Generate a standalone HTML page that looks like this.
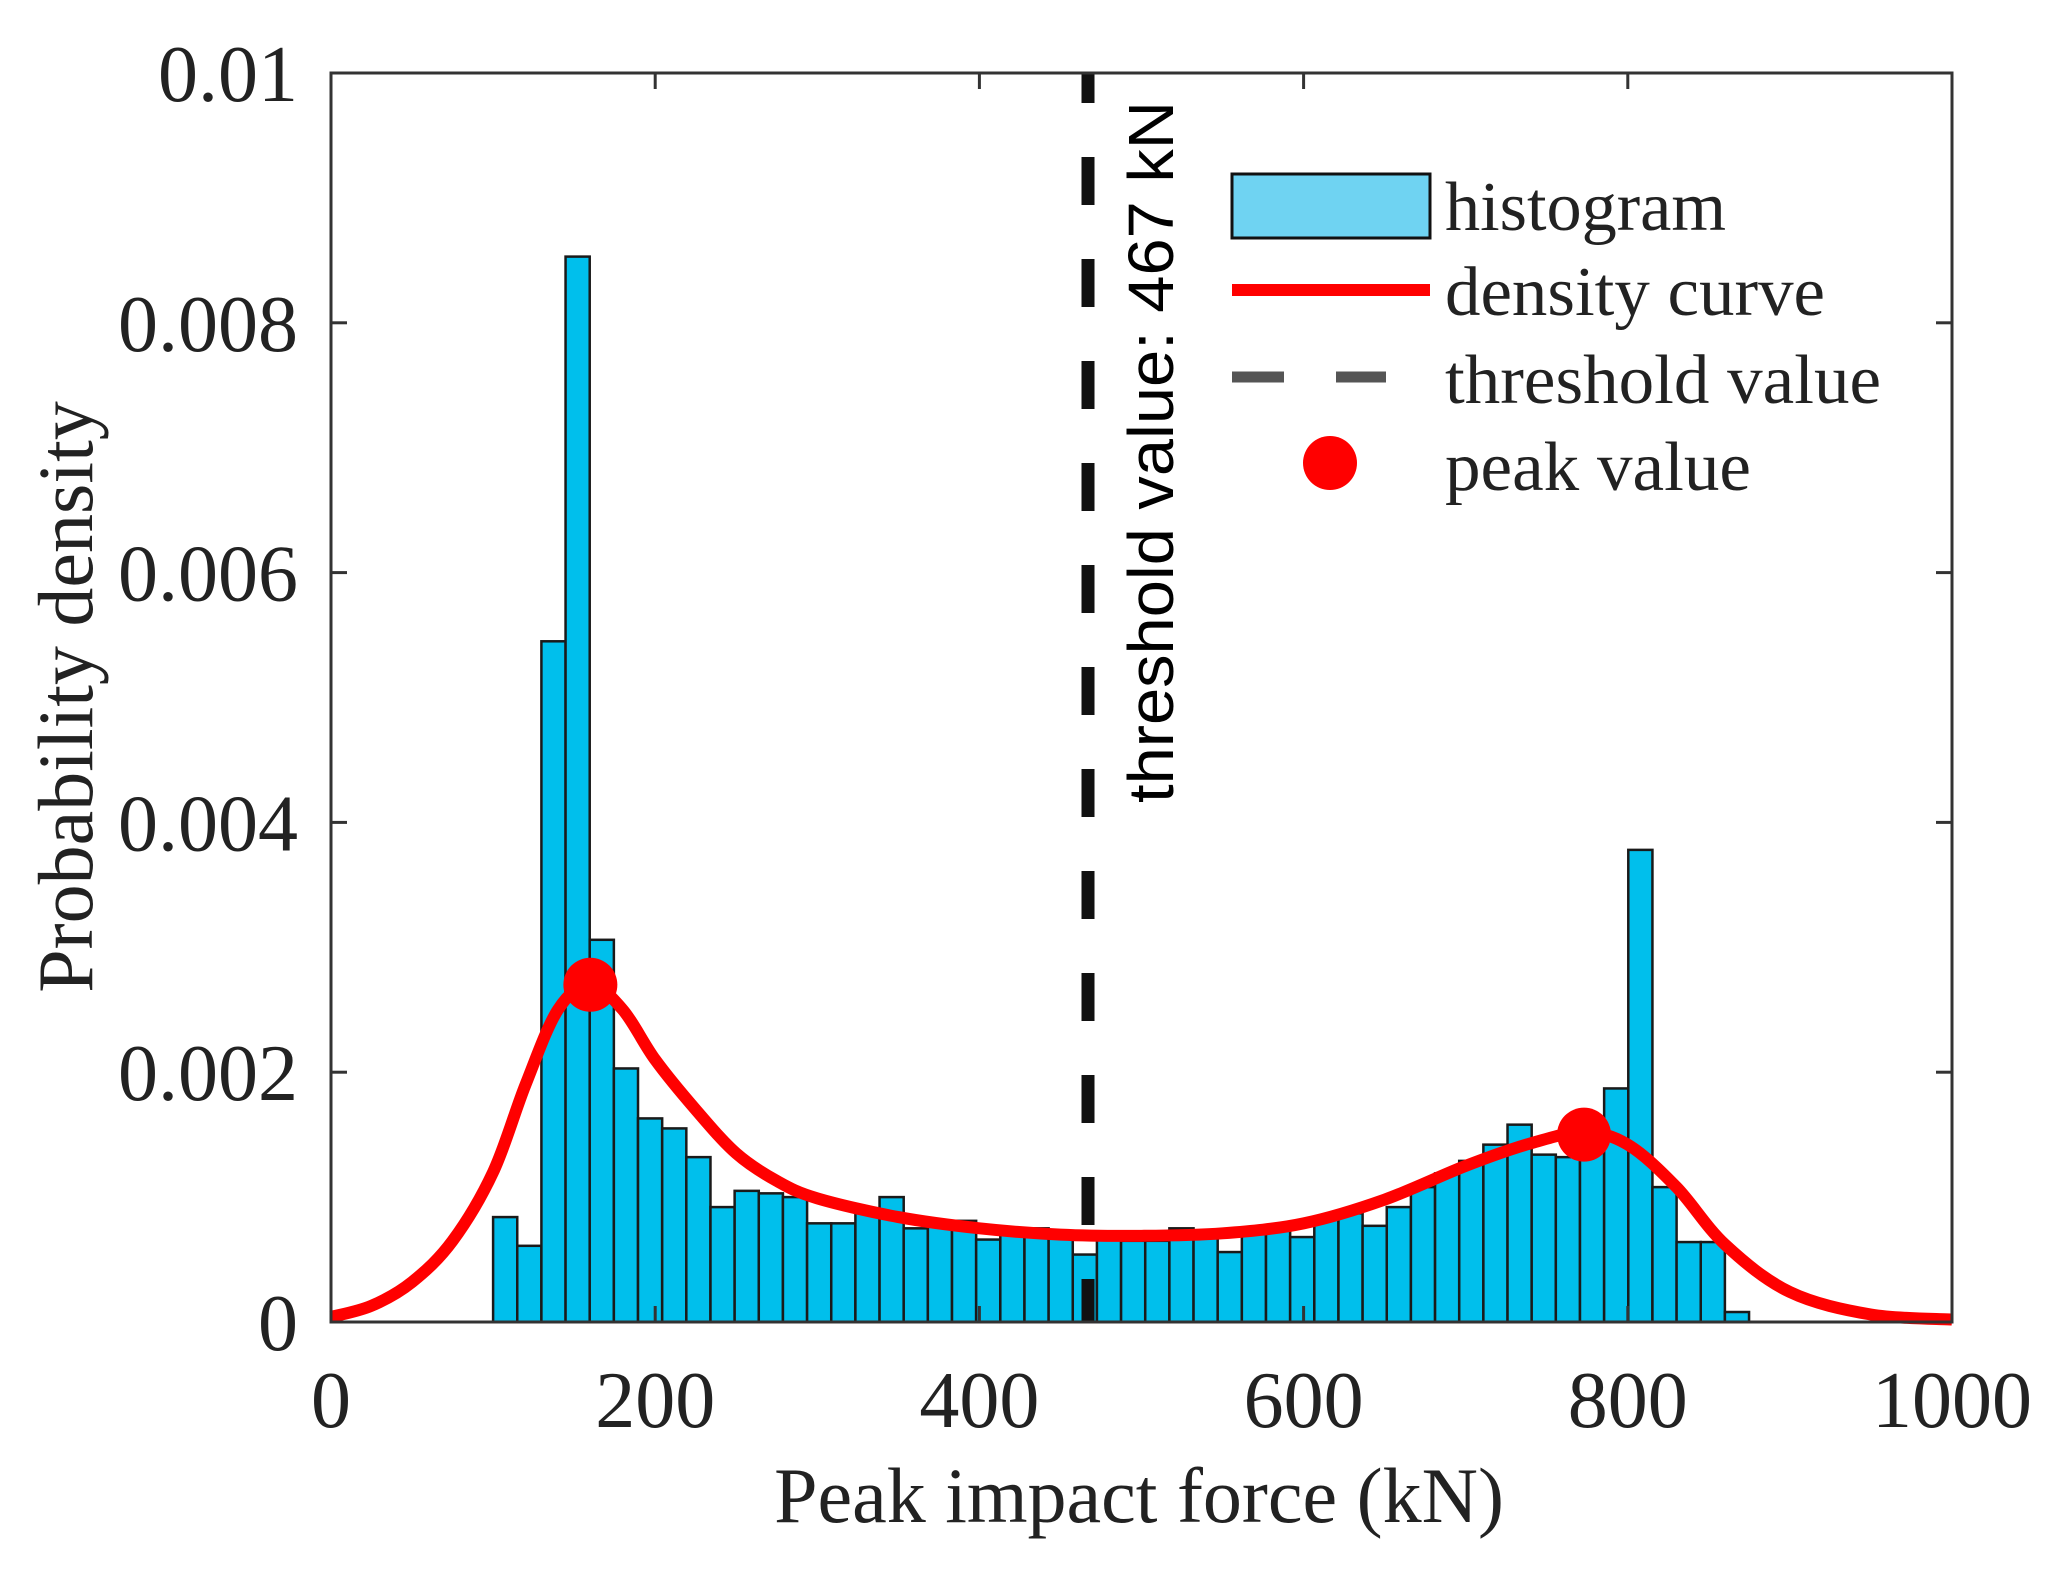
<!DOCTYPE html>
<html><head><meta charset="utf-8"><style>
html,body{margin:0;padding:0;background:#fff;}
svg{display:block;}
text{font-family:"Liberation Serif",serif;fill:#222;}
</style></head><body>
<svg id="chart" width="2059" height="1574" viewBox="0 0 2059 1574" xmlns="http://www.w3.org/2000/svg">
<g id="bars"></g>
<path id="curve" fill="none" stroke="#ff0000" stroke-width="12" stroke-linejoin="round"/>
<g id="peaks"></g>
<line id="thresh" stroke="#111" stroke-width="13" stroke-dasharray="48 54"/>
<text id="threshText" style="font-family:'Liberation Sans',sans-serif;fill:#000" font-size="64" textLength="702" lengthAdjust="spacingAndGlyphs">threshold value: 467 kN</text>
<g id="frame"></g>
<g id="xticks"></g>
<g id="yticks"></g>
<text x="1139" y="1522" font-size="78" text-anchor="middle">Peak impact force (kN)</text>
<text x="0" y="0" font-size="78" text-anchor="middle" transform="translate(92,697) rotate(-90)">Probability density</text>
<g>
  <rect x="1232" y="174" width="198" height="64" fill="#6fd3f2" stroke="#111" stroke-width="3"/>
  <text x="1445" y="230" font-size="70" textLength="281" lengthAdjust="spacingAndGlyphs">histogram</text>
  <line x1="1232" y1="290" x2="1430" y2="290" stroke="#ff0000" stroke-width="12"/>
  <text x="1445" y="315" font-size="70" textLength="380" lengthAdjust="spacingAndGlyphs">density curve</text>
  <line x1="1232" y1="377" x2="1284" y2="377" stroke="#555" stroke-width="11"/>
  <line x1="1336" y1="377" x2="1386" y2="377" stroke="#555" stroke-width="11"/>
  <text x="1445" y="403" font-size="70" textLength="436" lengthAdjust="spacingAndGlyphs">threshold value</text>
  <circle cx="1330" cy="463" r="27" fill="#ff0000"/>
  <text x="1445" y="490" font-size="70" textLength="306" lengthAdjust="spacingAndGlyphs">peak value</text>
</g>
</svg>
<script>
const binStart = 100;
const binWidth = 14.9;
const binValues = [0.00084,0.00061,0.00545,0.00853,0.00306,0.00203,0.00163,0.00155,0.00132,0.00092,0.00105,0.00103,0.00100,0.00079,0.00079,0.00087,0.00100,0.00075,0.00080,0.00081,0.00066,0.00073,0.00075,0.00069,0.00054,0.00068,0.00065,0.00065,0.00075,0.00069,0.00056,0.00071,0.00073,0.00068,0.00084,0.00087,0.00077,0.00092,0.00108,0.00119,0.00129,0.00142,0.00158,0.00134,0.00132,0.00145,0.00187,0.00378,0.00108,0.00064,0.00064,0.00008];
const curveX = [0,25,50,75,100,120,140,160,180,200,225,250,275,300,350,400,450,500,550,600,650,700,740,773,800,830,860,900,950,1000];
const curveY = [0.00004,0.00013,0.00032,0.00065,0.0012,0.0019,0.0025,0.0027,0.0025,0.0021,0.0017,0.00135,0.00113,0.00099,0.00084,0.00075,0.00070,0.00069,0.00071,0.00079,0.00098,0.00125,0.00143,0.00152,0.00142,0.00108,0.00062,0.00024,0.00006,0.00002];
const peakX = [160,773];
const peakY = [0.0027,0.0015];
const threshold = 467;
const xTicks = [0,200,400,600,800,1000];
const xTickLabels = ["0","200","400","600","800","1000"];
const yTicks = [0,0.002,0.004,0.006,0.008,0.01];
const yTickLabels = ["0","0.002","0.004","0.006","0.008","0.01"];

const L=331,R=1952,T=73,B=1322;
const NS='http://www.w3.org/2000/svg';
function sx(v){return L+(v-0)/1000*(R-L);}
function sy(v){return B-v/0.01*(B-T);}
function mk(tag,attrs,parent){const e=document.createElementNS(NS,tag);for(const k in attrs)e.setAttribute(k,attrs[k]);parent.appendChild(e);return e;}

const bars=document.getElementById('bars');
binValues.forEach((v,i)=>{
  const x0=sx(binStart+i*binWidth), x1=sx(binStart+(i+1)*binWidth);
  const r=mk('rect',{x:x0,y:sy(v),width:x1-x0,height:B-sy(v),fill:'#00bfec',stroke:'#1a1a1a','stroke-width':2.5},bars);
  
  
});
const pts=curveX.map((x,i)=>[sx(x),sy(curveY[i])]);
let d='M'+pts[0][0]+','+pts[0][1];
for(let i=0;i<pts.length-1;i++){
  const p0=pts[Math.max(0,i-1)],p1=pts[i],p2=pts[i+1],p3=pts[Math.min(pts.length-1,i+2)];
  const c1=[p1[0]+(p2[0]-p0[0])/6,p1[1]+(p2[1]-p0[1])/6];
  const c2=[p2[0]-(p3[0]-p1[0])/6,p2[1]-(p3[1]-p1[1])/6];
  d+=' C'+c1[0]+','+c1[1]+' '+c2[0]+','+c2[1]+' '+p2[0]+','+p2[1];
}
document.getElementById('curve').setAttribute('d',d);
const peaks=document.getElementById('peaks');
peakX.forEach((x,i)=>{
  const c=mk('circle',{cx:sx(x),cy:sy(peakY[i]),r:27,fill:'#ff0000'},peaks);
  
  
});
const th=document.getElementById('thresh');
th.setAttribute('x1',sx(threshold));th.setAttribute('x2',sx(threshold));
th.setAttribute('y1',T);th.setAttribute('y2',B);
th.setAttribute('stroke-dashoffset',18);
const tt=document.getElementById('threshText');
tt.setAttribute('transform','translate('+(sx(threshold)+85)+',803) rotate(-90)');

const fr=document.getElementById('frame');
mk('rect',{x:L,y:T,width:R-L,height:B-T,fill:'none',stroke:'#333','stroke-width':3},fr);
const xt=document.getElementById('xticks');
xTicks.forEach((v,i)=>{
  mk('line',{x1:sx(v),y1:B,x2:sx(v),y2:B-16,stroke:'#333','stroke-width':3},xt);
  mk('line',{x1:sx(v),y1:T,x2:sx(v),y2:T+16,stroke:'#333','stroke-width':3},xt);
  const t=mk('text',{x:sx(v),y:1427,'font-size':80,'text-anchor':'middle'},xt);
  t.textContent=xTickLabels[i];
  
  
});
const yt=document.getElementById('yticks');
yTicks.forEach((v,i)=>{
  mk('line',{x1:L,y1:sy(v),x2:L+16,y2:sy(v),stroke:'#333','stroke-width':3},yt);
  mk('line',{x1:R,y1:sy(v),x2:R-16,y2:sy(v),stroke:'#333','stroke-width':3},yt);
  const t=mk('text',{x:298,y:sy(v)+28,'font-size':80,'text-anchor':'end'},yt);
  t.textContent=yTickLabels[i];
  
  
});
</script>
</body></html>
